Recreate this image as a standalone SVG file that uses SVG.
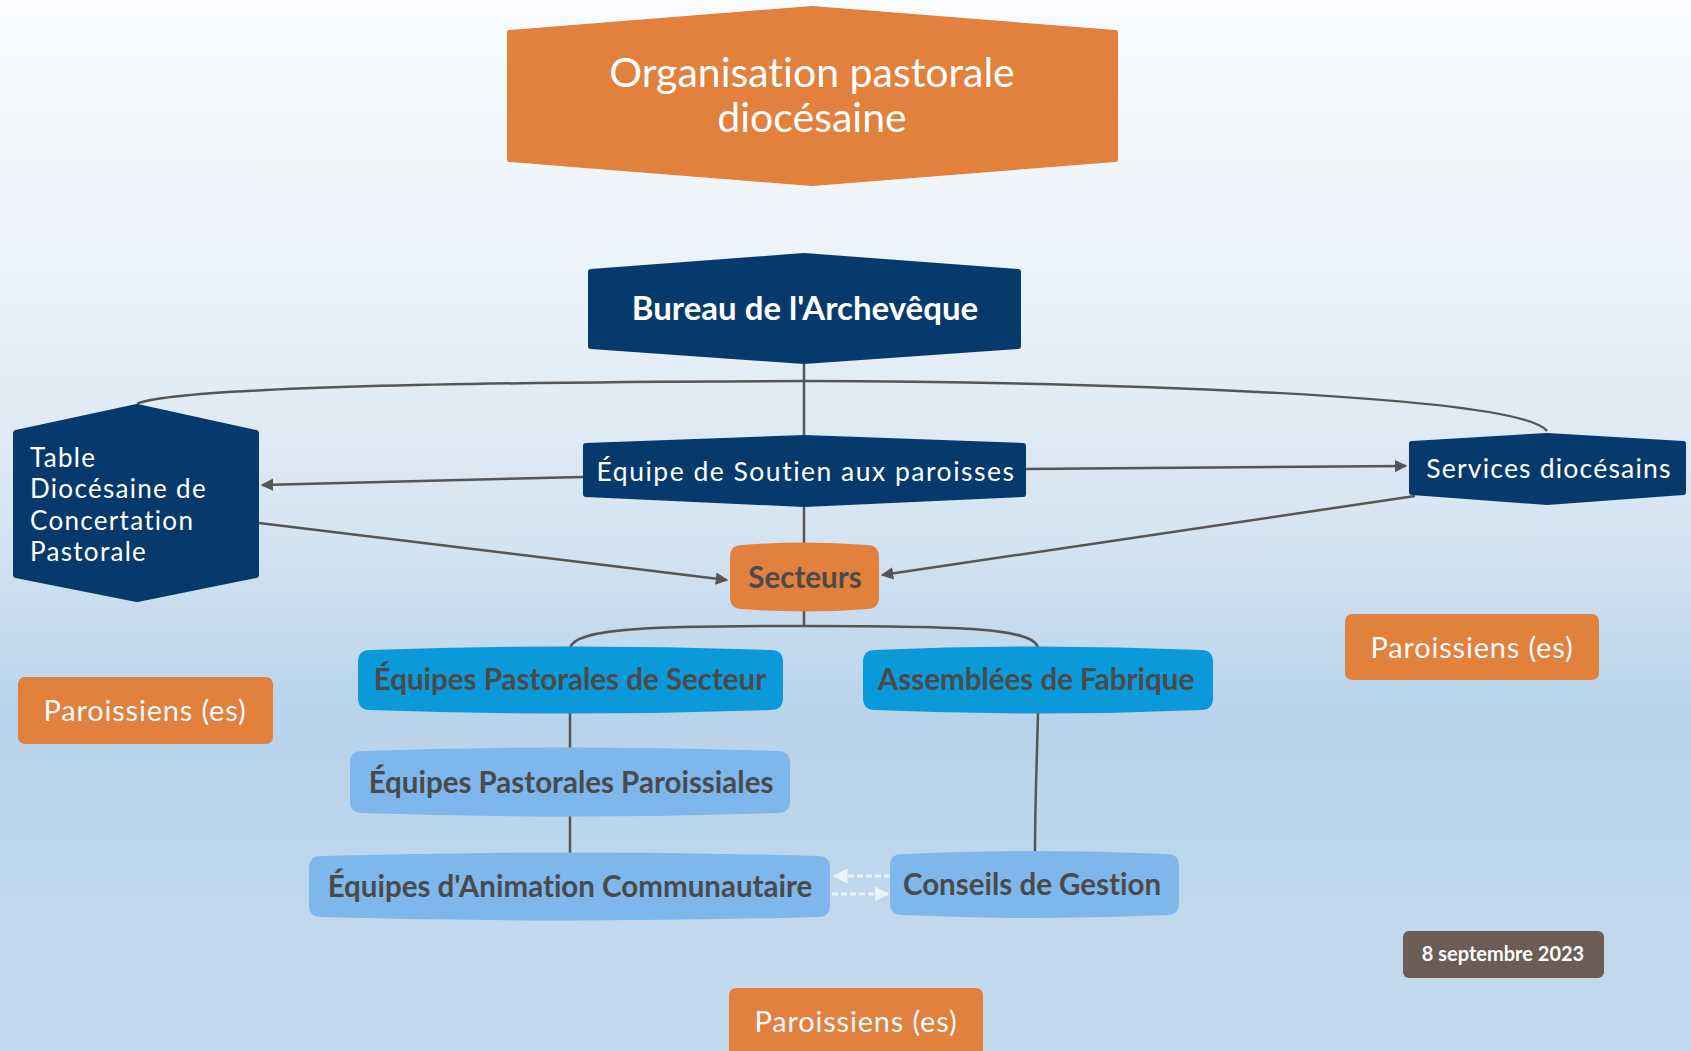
<svg xmlns="http://www.w3.org/2000/svg" width="1691" height="1051" viewBox="0 0 1691 1051">
<defs>
<linearGradient id="bg" x1="0" y1="0" x2="0" y2="1">
<stop offset="0" stop-color="#fafcfe"/>
<stop offset="0.28" stop-color="#eaf1f8"/>
<stop offset="0.5" stop-color="#d6e5f2"/>
<stop offset="0.68" stop-color="#b9d3ea"/>
<stop offset="1" stop-color="#c6dbef"/>
</linearGradient>
<marker id="arr" viewBox="0 0 10 10" refX="9" refY="5" markerWidth="5" markerHeight="5" orient="auto-start-reverse" markerUnits="strokeWidth">
<path d="M0,0 L10,5 L0,10 Z" fill="#555"/>
</marker>
<marker id="arrL" viewBox="0 0 10 10" refX="9" refY="5" markerWidth="5" markerHeight="5" orient="auto" markerUnits="strokeWidth">
<path d="M0,0 L10,5 L0,10 Z" fill="#e9f3fc"/>
</marker>
<style>
text{font-variant-ligatures:none}
.con{fill:none;stroke:#555;stroke-width:2.5}
.navy{fill:#063a6c;stroke:#063a6c;stroke-width:6;stroke-linejoin:round}
.orange{fill:#e2803d}
.blue1{fill:#0a99d9}
.blue2{fill:#7db7ec}
.wt{fill:#ffffff;font-family:Lato,"Liberation Sans",sans-serif}
.gt{fill:#4a4a4a;font-family:Lato,"Liberation Sans",sans-serif;font-weight:bold;font-size:29.5px}
.pt{fill:#f3f8fc;font-family:Lato,"Liberation Sans",sans-serif;font-size:29px;letter-spacing:0.8px}
</style>
</defs>
<rect width="1691" height="1051" fill="url(#bg)"/>

<g id="connectors">
<path class="con" d="M804,364 V435"/>
<path class="con" d="M804,381 C450,382 170,388 137,404"/>
<path class="con" d="M804,381 C1100,382 1520,395 1547,431"/>
<path class="con" d="M583,477 L262,485" marker-end="url(#arr)"/>
<path class="con" d="M1026,469 L1406,466" marker-end="url(#arr)"/>
<path class="con" d="M259,523 L727,580" marker-end="url(#arr)"/>
<path class="con" d="M1415,496 L882,575" marker-end="url(#arr)"/>
<path class="con" d="M804,507 V545"/>
<path class="con" d="M804,609 V626"/>
<path class="con" d="M804,626 C650,626 575,628 570,648"/>
<path class="con" d="M804,626 C960,626 1035,628 1038,648"/>
<path class="con" d="M570,711 V749"/>
<path class="con" d="M570,814 V854"/>
<path class="con" d="M1038,711 C1037,760 1035,800 1035,852"/>
<path d="M890,876 L834,876" fill="none" stroke="#e9f3fc" stroke-width="3" stroke-dasharray="6,3" marker-end="url(#arrL)"/>
<path d="M832,894 L888,894" fill="none" stroke="#e9f3fc" stroke-width="3" stroke-dasharray="6,3" marker-end="url(#arrL)"/>
</g>

<g id="title">
<path d="M510,33 L812,9 L1115,33 L1115,159 L812,183 L510,159 Z" fill="#e2803d" stroke="#e2803d" stroke-width="6" stroke-linejoin="round"/>
<text class="wt" x="812" y="87" font-size="41" text-anchor="middle">Organisation pastorale</text>
<text class="wt" x="812" y="132" font-size="41" text-anchor="middle">diocésaine</text>
</g>

<g id="bureau">
<path class="navy" d="M591,272 L804,256 L1018,272 L1018,346 L804,361 L591,346 Z"/>
<text class="wt" x="805" y="320" font-size="33" font-weight="bold" text-anchor="middle">Bureau de l'Archevêque</text>
</g>

<g id="table">
<path class="navy" d="M16,433 L137,407 L256,433 L256,575 L137,599 L16,575 Z"/>
<text class="wt" font-size="26" letter-spacing="1.3"><tspan x="30" y="467">Table</tspan><tspan x="30" y="498">Diocésaine de</tspan><tspan x="30" y="530">Concertation</tspan><tspan x="30" y="561">Pastorale</tspan></text>
</g>

<g id="soutien">
<path class="navy" d="M586,446 L804,438 L1023,446 L1023,494 L804,504 L586,494 Z"/>
<text class="wt" x="806" y="481" font-size="26.5" letter-spacing="1.5" text-anchor="middle">Équipe de Soutien aux paroisses</text>
</g>

<g id="services">
<path class="navy" d="M1412,444 L1547,436 L1683,444 L1683,492 L1547,502 L1412,492 Z"/>
<text class="wt" x="1549" y="478" font-size="26.5" letter-spacing="1.2" text-anchor="middle">Services diocésains</text>
</g>

<g id="secteurs">
<path class="orange" d="M742,545 Q804,540 867,545 Q879,545 879,557 V597 Q879,609 867,609 Q804,614 742,609 Q730,609 730,597 V557 Q730,545 742,545 Z"/>
<text class="gt" x="805" y="588" text-anchor="middle">Secteurs</text>
</g>

<g id="eps">
<path class="blue1" d="M370,650 Q570,643 771,650 Q783,650 783,662 V698 Q783,710 771,710 Q570,717 370,710 Q358,710 358,698 V662 Q358,650 370,650 Z"/>
<text class="gt" x="570" y="690" text-anchor="middle">Équipes Pastorales de Secteur</text>
</g>

<g id="fabrique">
<path class="blue1" d="M875,650 Q1038,643 1201,650 Q1213,650 1213,662 V698 Q1213,710 1201,710 Q1038,717 875,710 Q863,710 863,698 V662 Q863,650 875,650 Z"/>
<text class="gt" x="1036" y="690" text-anchor="middle">Assemblées de Fabrique</text>
</g>

<g id="epp">
<path class="blue2" d="M362,751 Q570,744 778,751 Q790,751 790,763 V801 Q790,813 778,813 Q570,820 362,813 Q350,813 350,801 V763 Q350,751 362,751 Z"/>
<text class="gt" x="571" y="793" text-anchor="middle">Équipes Pastorales Paroissiales</text>
</g>

<g id="eac">
<path class="blue2" d="M321,856 Q570,849 818,856 Q830,856 830,868 V905 Q830,917 818,917 Q570,924 321,917 Q309,917 309,905 V868 Q309,856 321,856 Z"/>
<text class="gt" x="570" y="897" text-anchor="middle">Équipes d'Animation Communautaire</text>
</g>

<g id="conseils">
<path class="blue2" d="M902,854 Q1035,848 1167,854 Q1179,854 1179,866 V903 Q1179,915 1167,915 Q1035,921 902,915 Q890,915 890,903 V866 Q890,854 902,854 Z"/>
<text class="gt" x="1032" y="895" text-anchor="middle">Conseils de Gestion</text>
</g>

<g id="par-left">
<rect class="orange" x="18" y="677" width="255" height="67" rx="7"/>
<text class="pt" x="145" y="721" text-anchor="middle">Paroissiens (es)</text>
</g>

<g id="par-right">
<rect class="orange" x="1345" y="614" width="254" height="66" rx="7"/>
<text class="pt" x="1472" y="658" text-anchor="middle">Paroissiens (es)</text>
</g>

<g id="par-bottom">
<rect class="orange" x="729" y="988" width="254" height="75" rx="7"/>
<text class="pt" x="856" y="1032" text-anchor="middle">Paroissiens (es)</text>
</g>

<g id="date">
<rect x="1403" y="931" width="201" height="47" rx="6" fill="#6d5c55"/>
<text x="1503" y="961" font-size="20" font-weight="bold" fill="#ffffff" font-family="Lato,'Liberation Sans',sans-serif" text-anchor="middle">8 septembre 2023</text>
</g>
</svg>
